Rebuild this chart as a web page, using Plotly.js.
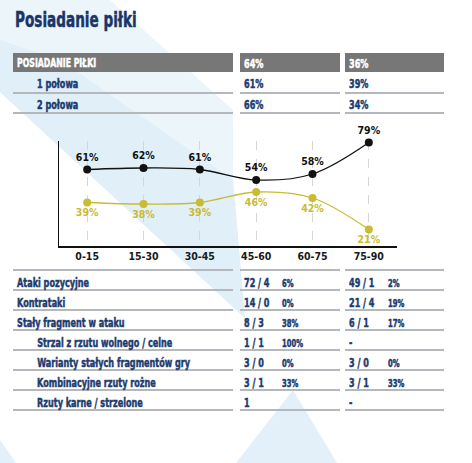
<!DOCTYPE html>
<html>
<head>
<meta charset="utf-8">
<script src="https://cdn.plot.ly/plotly-3.0.1.min.js"></script>
<style>
html,body{margin:0;padding:0;background:#fff;}
#chart{width:472px;height:463px;}
#chart .annotation-text{transform:scaleX(0.72);transform-box:fill-box;transform-origin:0% 50%;}
</style>
</head>
<body>
<div id="chart"></div>
<script>
// ---- data ----
const categories = ['0-15', '15-30', '30-45', '45-60', '60-75', '75-90'];
const homePossession = [61, 62, 61, 54, 58, 79];
const awayPossession = [39, 38, 39, 46, 42, 21];

const titleText = 'Posiadanie piłki';
const possessionHeader = 'POSIADANIE PIŁKI';
const possessionTotals = ['64%', '36%'];
const halfLabels = ['1 połowa', '2 połowa'];
const homeHalves = ['61%', '66%'];
const awayHalves = ['39%', '34%'];

const attackLabels = ['Ataki pozycyjne', 'Kontrataki', 'Stały fragment w ataku',
  'Strzal z rzutu wolnego / celne', 'Warianty stałych fragmentów gry',
  'Kombinacyjne rzuty rożne', 'Rzuty karne / strzelone'];
const attackIndent = [0, 0, 0, 1, 1, 1, 1];
const homeAttack = ['72 / 4', '14 / 0', '8 / 3', '1 / 1', '3 / 0', '3 / 1', '1'];
const homeAttackPct = ['6%', '0%', '38%', '100%', '0%', '33%', ''];
const awayAttack = ['49 / 1', '21 / 4', '6 / 1', '-', '3 / 0', '3 / 1', '-'];
const awayAttackPct = ['2%', '19%', '17%', '', '0%', '33%', ''];

// ---- layout helpers (pixel -> paper) ----
const W = 472, H = 463;
const px = x => x / W;
const py = y => 1 - y / H;
const FONT = '"DejaVu Sans Condensed", "DejaVu Sans", sans-serif';
const NAVY = '#1d3b70';
const LINE = '#b4b8bd';
const BLACK = '#111111';
const YELLOW = '#c9bb33';

const colL = [13, 233], colM = [240, 340], colR = [345, 444];
const shapes = [];
const annotations = [];

function pathFrom(points) {
  return 'M ' + points.map(p => px(p[0]) + ',' + py(p[1])).join(' L ') + ' Z';
}
// background decoration
shapes.push({type: 'path', xref: 'paper', yref: 'paper', layer: 'below', line: {width: 0},
  fillcolor: '#ebf5fa', path: pathFrom([[0, 0], [110, 0], [233, 110], [233, 180], [245, 318], [0, 92]])});
shapes.push({type: 'path', xref: 'paper', yref: 'paper', layer: 'below', line: {width: 0},
  fillcolor: '#e1eff8', path: pathFrom([[0, 40], [60, 60], [233, 180], [245, 318], [0, 92]])});
shapes.push({type: 'path', xref: 'paper', yref: 'paper', layer: 'below', line: {width: 0},
  fillcolor: '#e3f0f9', path: pathFrom([[293, 390], [337, 463], [236, 463]])});
shapes.push({type: 'path', xref: 'paper', yref: 'paper', layer: 'below', line: {width: 0},
  fillcolor: '#e3f0f9', path: pathFrom([[0, 440], [16, 463], [0, 463]])});

function hline(y, cols) {
  cols.forEach(c => shapes.push({type: 'line', xref: 'paper', yref: 'paper', layer: 'below',
    x0: px(c[0]), x1: px(c[1]), y0: py(y), y1: py(y), line: {color: LINE, width: 2}}));
}
function txt(x, y, s, size, color) {
  annotations.push({xref: 'paper', yref: 'paper', x: px(x), y: py(y), text: s, showarrow: false,
    xanchor: 'left', yanchor: 'middle', font: {family: FONT, size: size, color: color}});
}

// title
txt(13, 20, '<b>' + titleText + '</b>', 21, '#1a3567');

// header bar
[colL, colM, colR].forEach(c => shapes.push({type: 'rect', xref: 'paper', yref: 'paper', layer: 'below',
  x0: px(c[0]), x1: px(c[1]), y0: py(72), y1: py(53), fillcolor: '#777777', line: {width: 0}}));
txt(15, 63, '<b>' + possessionHeader + '</b>', 12, '#ffffff');
txt(242, 63, '<b>' + possessionTotals[0] + '</b>', 12.5, '#ffffff');
txt(347, 63, '<b>' + possessionTotals[1] + '</b>', 12.5, '#ffffff');

halfLabels.forEach((lab, i) => {
  const yc = 84 + i * 20;
  txt(35, yc, '<b>' + lab + '</b>', 12.5, NAVY);
  txt(242, yc, '<b>' + homeHalves[i] + '</b>', 12.5, NAVY);
  txt(347, yc, '<b>' + awayHalves[i] + '</b>', 12.5, NAVY);
  hline(yc + 9, [colL, colM, colR]);
});

// lower table
hline(270, [colL, colM, colR]);
attackLabels.forEach((lab, i) => {
  const yc = 282 + i * 20;
  txt(attackIndent[i] ? 35 : 15, yc, '<b>' + lab + '</b>', 12.5, NAVY);
  txt(242, yc, '<b>' + homeAttack[i] + '</b>', 12.5, NAVY);
  if (homeAttackPct[i]) txt(280, yc + 1, '<b>' + homeAttackPct[i] + '</b>', 10.5, NAVY);
  txt(347, yc, '<b>' + awayAttack[i] + '</b>', 12.5, NAVY);
  if (awayAttackPct[i]) txt(386, yc + 1, '<b>' + awayAttackPct[i] + '</b>', 10.5, NAVY);
  hline(yc + 8, [colL, colM, colR]);
});

// ---- chart ----
const traces = [
  {x: categories, y: awayPossession, type: 'scatter', mode: 'lines+markers+text',
   line: {shape: 'spline', smoothing: 1, color: YELLOW, width: 1.3},
   marker: {size: 8, color: YELLOW},
   texttemplate: '%{y}%', textposition: 'bottom center', cliponaxis: false,
   textfont: {family: FONT, size: 10.5, color: YELLOW, weight: 'bold'}, hoverinfo: 'skip'},
  {x: categories, y: homePossession, type: 'scatter', mode: 'lines+markers+text',
   line: {shape: 'spline', smoothing: 1, color: BLACK, width: 1.3},
   marker: {size: 8, color: BLACK},
   texttemplate: '%{y}%', textposition: 'top center', cliponaxis: false,
   textfont: {family: FONT, size: 10.5, color: BLACK, weight: 'bold'}, hoverinfo: 'skip'}
];

const layout = {
  width: W, height: H,
  margin: {l: 0, r: 0, t: 0, b: 0, pad: 0},
  paper_bgcolor: '#ffffff', plot_bgcolor: 'rgba(0,0,0,0)',
  showlegend: false,
  font: {family: FONT},
  xaxis: {type: 'category', domain: [px(59), px(397)], range: [-0.5, 5.5],
    showline: true, linecolor: BLACK, linewidth: 1.5, ticks: '',
    showgrid: true, gridcolor: '#d6d6d6', griddash: 'dash', gridwidth: 1,
    zeroline: false, fixedrange: true,
    tickfont: {family: FONT, size: 10.5, color: '#1a1a1a', weight: 'bold'}},
  yaxis: {domain: [py(246), py(141)], range: [10, 80],
    showline: true, linecolor: BLACK, linewidth: 1.5, ticks: '',
    showticklabels: false, showgrid: false, zeroline: false, fixedrange: true},
  shapes: shapes,
  annotations: annotations
};

Plotly.newPlot('chart', traces, layout, {displayModeBar: false, staticPlot: true}).then(() => {
  // thicken the horizontally condensed text so it keeps a heavy look
  document.querySelectorAll('#chart .annotation-text').forEach(t => {
    t.style.stroke = t.style.fill;
    t.style.strokeWidth = '0.5px';
    t.style.paintOrder = 'stroke';
  });
});
</script>
</body>
</html>
